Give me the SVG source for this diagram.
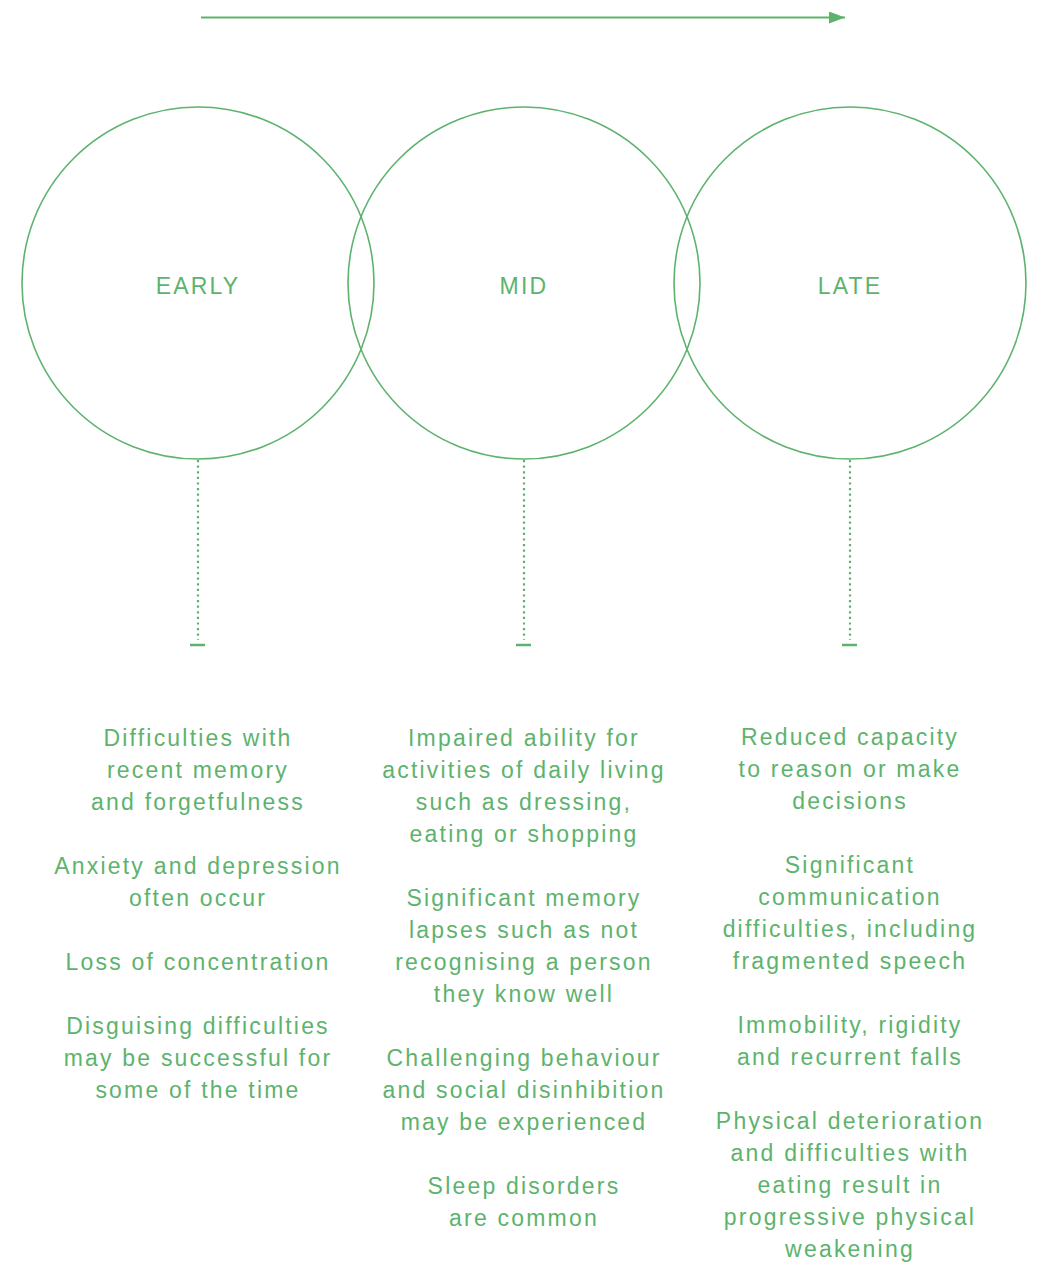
<svg xmlns="http://www.w3.org/2000/svg" width="1039" height="1262" viewBox="0 0 1039 1262">
<style>
.c{fill:none;stroke:#5db36d;stroke-width:1.6}
.d{fill:none;stroke:#5db36d;stroke-width:2.2;stroke-dasharray:2.2 3.4}
.cap{stroke:#5db36d;stroke-width:2.5}
text{font-family:"Liberation Sans",Arial,sans-serif;font-size:23px;fill:#5db36d;letter-spacing:2.2px;text-anchor:middle}
</style>
<defs>
<marker id="ah" markerWidth="16" markerHeight="12" refX="16" refY="6" orient="auto" markerUnits="userSpaceOnUse">
<path d="M0,0 L16,6 L0,12 Z" fill="#5db36d"/>
</marker>
</defs>
<g id="connectors">
<line x1="201" y1="17.5" x2="845" y2="17.5" stroke="#5db36d" stroke-width="2" marker-end="url(#ah)"/>
<line class="d" x1="198" y1="460" x2="198" y2="640"/>
<line class="cap" x1="190" y1="645" x2="205" y2="645"/>
<line class="d" x1="524" y1="460" x2="524" y2="640"/>
<line class="cap" x1="516" y1="645" x2="531" y2="645"/>
<line class="d" x1="850" y1="460" x2="850" y2="640"/>
<line class="cap" x1="842" y1="645" x2="857" y2="645"/>
</g>
<g id="early">
<circle class="c" cx="198" cy="283" r="176"/>
<text x="198" y="294">EARLY</text>
</g>
<g id="mid">
<circle class="c" cx="524" cy="283" r="176"/>
<text x="524" y="294">MID</text>
</g>
<g id="late">
<circle class="c" cx="850" cy="283" r="176"/>
<text x="850" y="294">LATE</text>
</g>
<g id="early-text">
<text x="198" y="746">Difficulties with</text>
<text x="198" y="778">recent memory</text>
<text x="198" y="810">and forgetfulness</text>
<text x="198" y="874">Anxiety and depression</text>
<text x="198" y="906">often occur</text>
<text x="198" y="970">Loss of concentration</text>
<text x="198" y="1034">Disguising difficulties</text>
<text x="198" y="1066">may be successful for</text>
<text x="198" y="1098">some of the time</text>
</g>
<g id="mid-text">
<text x="524" y="746">Impaired ability for</text>
<text x="524" y="778">activities of daily living</text>
<text x="524" y="810">such as dressing,</text>
<text x="524" y="842">eating or shopping</text>
<text x="524" y="906">Significant memory</text>
<text x="524" y="938">lapses such as not</text>
<text x="524" y="970">recognising a person</text>
<text x="524" y="1002">they know well</text>
<text x="524" y="1066">Challenging behaviour</text>
<text x="524" y="1098">and social disinhibition</text>
<text x="524" y="1130">may be experienced</text>
<text x="524" y="1194">Sleep disorders</text>
<text x="524" y="1226">are common</text>
</g>
<g id="late-text">
<text x="850" y="745">Reduced capacity</text>
<text x="850" y="777">to reason or make</text>
<text x="850" y="809">decisions</text>
<text x="850" y="873">Significant</text>
<text x="850" y="905">communication</text>
<text x="850" y="937">difficulties, including</text>
<text x="850" y="969">fragmented speech</text>
<text x="850" y="1033">Immobility, rigidity</text>
<text x="850" y="1065">and recurrent falls</text>
<text x="850" y="1129">Physical deterioration</text>
<text x="850" y="1161">and difficulties with</text>
<text x="850" y="1193">eating result in</text>
<text x="850" y="1225">progressive physical</text>
<text x="850" y="1257">weakening</text>
</g>
</svg>
